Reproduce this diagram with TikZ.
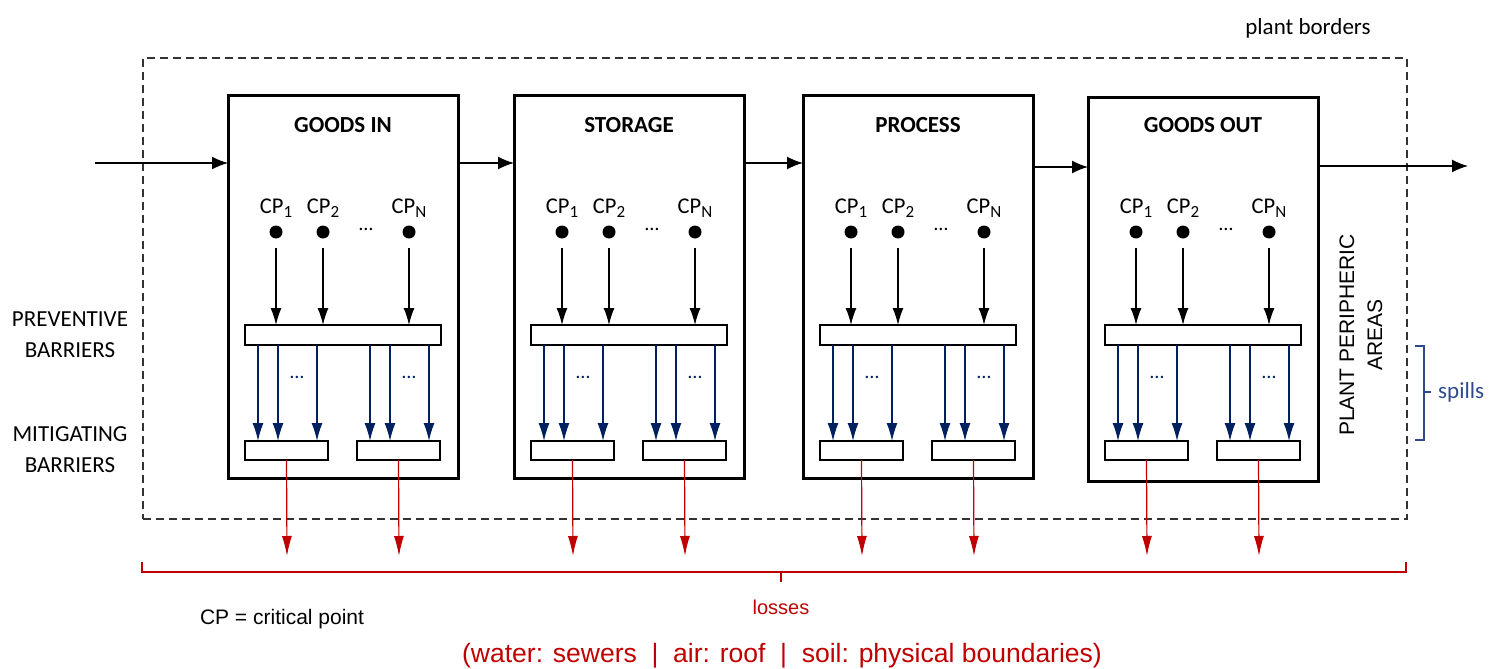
\documentclass[tikz,border=0pt]{standalone}
\usepackage{fontspec}
\setmainfont{Carlito}
\newfontfamily\arialf{Liberation Sans}
\usetikzlibrary{arrows.meta,calc}
\definecolor{navy}{HTML}{002060}
\definecolor{spillc}{HTML}{2F4A8A}
\definecolor{lossred}{HTML}{C00000}
\newcommand{\cpsub}[1]{CP\raisebox{-4.5pt}{\fontsize{17}{19}\selectfont #1}}
\tikzset{
  procbox/.style={draw, line width=3pt, minimum width=230pt, anchor=north west, inner sep=0pt, outer sep=0pt},
  barbox/.style={draw, line width=2.8pt, minimum width=196pt, minimum height=20pt, anchor=north west, inner sep=0pt, outer sep=0pt},
  mitbox/.style={draw, line width=2.8pt, minimum width=83pt, minimum height=19pt, anchor=north west, inner sep=0pt, outer sep=0pt},
  cpdot/.style={circle, fill, minimum size=13pt, inner sep=0pt},
  cplabel/.style={font=\fontsize{22.5}{26}\selectfont, inner sep=0pt},
  titlelab/.style={font=\fontsize{23}{27}\selectfont\bfseries, inner sep=0pt},
  sidelab/.style={font=\fontsize{23}{31}\selectfont, align=center, inner sep=0pt},
  flow/.style={line width=1.4pt, -{Latex[length=16pt,width=13pt]}},
  cparrow/.style={line width=1.4pt, -{Latex[length=17pt,width=11pt]}, shorten <=9pt},
  bluearr/.style={navy, line width=1.3pt, -{Latex[length=18pt,width=11pt]}},
  lossarr/.style={lossred, line width=1.2pt, -{Latex[length=20pt,width=10pt]}},
  lossline/.style={lossred, line width=1.3pt},
  blackdots/.style={font=\fontsize{20}{24}\selectfont, inner sep=0pt},
  bluedots/.style={navy, font=\fontsize{20}{24}\selectfont, inner sep=0pt},
  plantbox/.style={draw=black!80, line width=1.8pt, dash pattern=on 8pt off 5pt, anchor=north west, inner sep=0pt, minimum width=1264pt, minimum height=461pt},
  spill/.style={spillc, line width=1.4pt},
  arialtxt/.style={font=\arialf\fontsize{21}{25}\selectfont, inner sep=0pt}
}
\begin{document}
\begin{tikzpicture}[x=1pt,y=-1pt]
\useasboundingbox (0,0) rectangle (1489,669);

\node[plantbox] (plant) at (142,57) {};
\node[font=\fontsize{23}{27}\selectfont, inner sep=0pt] (plantlab) at (1308,28) {plant borders};

\foreach \i/\xl/\yt/\h/\ttl in {1/228/95/383/GOODS IN, 2/514/95/383/STORAGE, 3/803/95/383/PROCESS, 4/1088/97/384/GOODS OUT} {
  \node[procbox, minimum height=\h pt] (box\i) at (\xl,\yt) {};
  \node[titlelab] (t\i) at (\xl+115,125) {\ttl};
  \node[barbox] (bar\i) at (\xl+17,325) {};
  \node[mitbox] (mA\i) at (\xl+17,441) {};
  \node[mitbox] (mB\i) at (\xl+129,441) {};
  \foreach \k/\dx/\lab in {a/48/1, b/95/2, n/181/N} {
    \node[cpdot] (cp\i\k) at (\xl+\dx,232) {};
    \node[cplabel] (cpl\i\k) at (\xl+\dx,208) {\cpsub{\lab}};
    \draw[cparrow] (cp\i\k) -- (cp\i\k |- bar\i.north);
  }
  \node[blackdots] (el\i) at (\xl+138,229) {\dots};
  \foreach \dx in {13,33,72} {
    \draw[bluearr] ([xshift=\dx pt]bar\i.south west) -- ([xshift=\dx pt]mA\i.north west);
    \draw[bluearr] ([xshift=\dx pt+112pt]bar\i.south west) -- ([xshift=\dx pt]mB\i.north west);
  }
  \node[bluedots] (bdA\i) at (\xl+69,377) {\dots};
  \node[bluedots] (bdB\i) at (\xl+181,377) {\dots};
  \coordinate (lA\i) at (\xl+59,556);
  \coordinate (lB\i) at (\xl+171,556);
  \draw[lossarr] (mA\i.south) -- (lA\i);
  \draw[lossarr] (mB\i.south) -- (lB\i);
}

\coordinate (src) at (95,163);
\coordinate (src2) at (0,167);
\coordinate (snk) at (1468,166);
\draw[flow] (src) -- (src -| box1.west);
\draw[flow] (box1.east |- src) -- (box2.west |- src);
\draw[flow] (box2.east |- src) -- (box3.west |- src);
\draw[flow] (box3.east |- src2) -- (box4.west |- src2);
\draw[flow] (box4.east |- snk) -- (snk);

\node[sidelab] (prev) at (70,335) {PREVENTIVE\\BARRIERS};
\node[sidelab] (mitig) at (70,450) {MITIGATING\\BARRIERS};

\node[rotate=90, align=center, font=\arialf\fontsize{21}{28}\selectfont, inner sep=0pt] (peri) at (1361,335) {PLANT PERIPHERIC\\AREAS};

\draw[spill] (1415,346) -- (1424,346) -- (1424,440) -- (1415,440);
\draw[spill] (1424,392) -- (1431,392);
\node[spillc, font=\fontsize{23}{27}\selectfont, inner sep=0pt, anchor=west] (spills) at (1438,392) {spills};

\draw[lossline] (142,562) -- (142,572) -- (1406,572) -- (1406,562);
\draw[lossline] (781,572) -- (781,582);
\node[arialtxt, lossred, font=\arialf\fontsize{20}{24}\selectfont] (losses) at (781,607) {losses};
\node[arialtxt] (cpdef) at (282,619) {CP = critical point};
\node[lossred, font=\arialf\fontsize{26.5}{30}\selectfont, inner sep=0pt] (media) at (782,656) {(water: sewers\ \ |\ \ air: roof\ \ |\ \ soil: physical boundaries)};
\end{tikzpicture}
\end{document}
